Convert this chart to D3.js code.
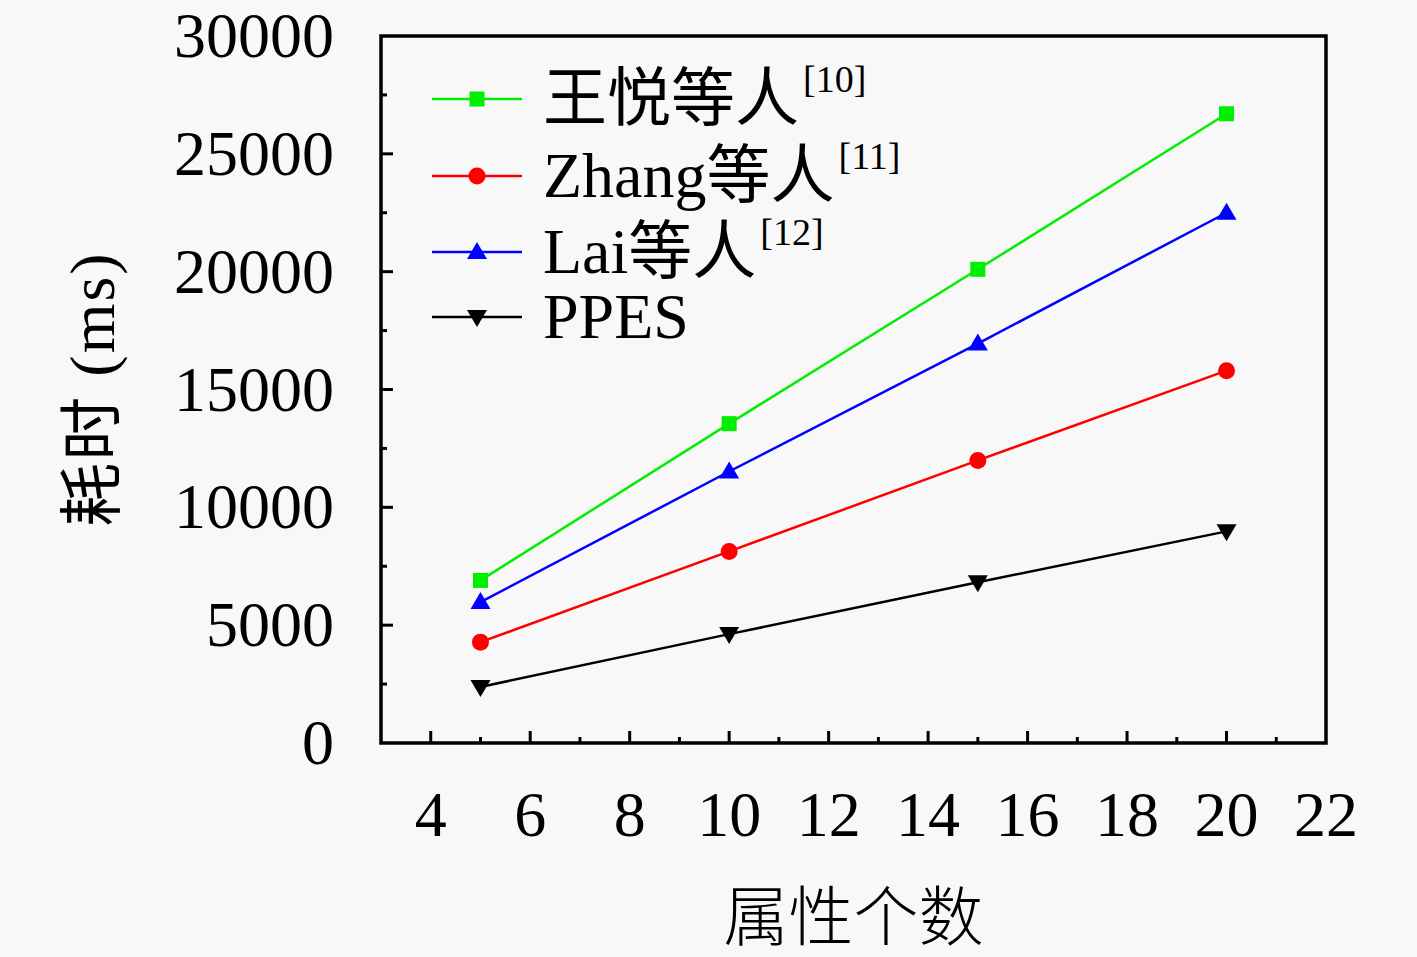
<!DOCTYPE html>
<html>
<head>
<meta charset="utf-8">
<script src="https://cdn.jsdelivr.net/npm/d3@7"></script>
<style>
  html, body { margin: 0; padding: 0; background: #f8f8f8; }
  svg { display: block; }
  text { font-family: "Liberation Serif", "Noto Sans CJK SC", serif; fill: #000; }
</style>
</head>
<body>
<svg id="chart" width="1417" height="957"></svg>
<script>
/* ── DATA ── */
const xValues   = [5, 10, 15, 20];
const wangVals  = [6900, 13550, 20100, 26700];
const zhangVals = [4280, 8130, 11990, 15800];
const laiVals   = [5980, 11520, 16950, 22500];
const ppesVals  = [2380, 4620, 6820, 8980];

const xTicks = [4, 6, 8, 10, 12, 14, 16, 18, 20, 22];
const yTicks = [0, 5000, 10000, 15000, 20000, 25000, 30000];

const series = [
  { name: '王悦等人', ref: '[10]', vals: wangVals,  color: '#00ee00', sym: 'square' },
  { name: 'Zhang等人', ref: '[11]', vals: zhangVals, color: '#ff0000', sym: 'circle' },
  { name: 'Lai等人',  ref: '[12]', vals: laiVals,   color: '#0000ff', sym: 'up' },
  { name: 'PPES',     ref: '',     vals: ppesVals,  color: '#000000', sym: 'down' },
];

/* ── LAYOUT ── */
const margin = { top: 36, right: 91, bottom: 214, left: 381 };
const W  = 1417, H = 957;
const iW = W - margin.left - margin.right;
const iH = H - margin.top  - margin.bottom;

const svg = d3.select('#chart');
const g   = svg.append('g').attr('transform', `translate(${margin.left},${margin.top})`);

const x = d3.scaleLinear().domain([3, 22]).range([0, iW]);
const y = d3.scaleLinear().domain([0, 30000]).range([iH, 0]);

/* ── MARKERS ── */
function marker(sel, sym, color) {
  if (sym === 'square') {
    sel.append('rect').attr('x', -7.5).attr('y', -7.5).attr('width', 15).attr('height', 15).attr('fill', color);
  } else if (sym === 'circle') {
    sel.append('circle').attr('r', 8.5).attr('fill', color);
  } else if (sym === 'up') {
    sel.append('path').attr('d', 'M0,-10L10,7L-10,7Z').attr('fill', color);
  } else {
    sel.append('path').attr('d', 'M0,10L10,-7L-10,-7Z').attr('fill', color);
  }
}

/* ── SERIES ── */
const line = d3.line().x(d => x(d[0])).y(d => y(d[1]));

series.forEach(s => {
  const pts = xValues.map((v, i) => [v, s.vals[i]]);
  g.append('path').datum(pts)
    .attr('d', line).attr('fill', 'none')
    .attr('stroke', s.color).attr('stroke-width', 2.5);
  pts.forEach(p => {
    const m = g.append('g').attr('transform', `translate(${x(p[0])},${y(p[1])})`);
    marker(m, s.sym, s.color);
  });
});

/* ── AXES ── */
// minor ticks
const yMinor = d3.range(2500, 30000, 5000);
const xMinor = d3.range(5, 22, 2);

g.selectAll('.ytk').data(yTicks.slice(1, -1)).enter().append('line')
  .attr('x1', 0).attr('x2', 12).attr('y1', d => y(d)).attr('y2', d => y(d))
  .attr('stroke', '#000').attr('stroke-width', 3);
g.selectAll('.ymn').data(yMinor).enter().append('line')
  .attr('x1', 0).attr('x2', 6).attr('y1', d => y(d)).attr('y2', d => y(d))
  .attr('stroke', '#000').attr('stroke-width', 3);
g.selectAll('.xtk').data(xTicks.slice(0, -1)).enter().append('line')
  .attr('x1', d => x(d)).attr('x2', d => x(d)).attr('y1', iH).attr('y2', iH - 12)
  .attr('stroke', '#000').attr('stroke-width', 3);
g.selectAll('.xmn').data(xMinor).enter().append('line')
  .attr('x1', d => x(d)).attr('x2', d => x(d)).attr('y1', iH).attr('y2', iH - 6)
  .attr('stroke', '#000').attr('stroke-width', 3);

// frame
g.append('rect').attr('width', iW).attr('height', iH)
  .attr('fill', 'none').attr('stroke', '#000').attr('stroke-width', 3.5);

// tick labels
g.selectAll('.ylbl').data(yTicks).enter().append('text')
  .attr('x', -47).attr('y', d => y(d)).attr('dy', '0.33em')
  .attr('text-anchor', 'end').attr('font-size', 64).text(d => d);
g.selectAll('.xlbl').data(xTicks).enter().append('text')
  .attr('x', d => x(d)).attr('y', iH + 93)
  .attr('text-anchor', 'middle').attr('font-size', 64).text(d => d);

// axis titles
svg.append('text')
  .attr('x', x(12.5) + margin.left).attr('y', 940)
  .attr('text-anchor', 'middle').attr('font-size', 65)
  .attr('font-family', '"Noto Sans CJK SC"').attr('font-weight', 300)
  .text('属性个数');

svg.append('text')
  .attr('transform', 'translate(114,389) rotate(-90)')
  .attr('text-anchor', 'middle').attr('font-size', 64)
  .attr('letter-spacing', 2)
  .text('耗时 (ms)');

/* ── LEGEND ── */
const legRows = [99, 176, 252, 317];
series.forEach((s, i) => {
  const lg = svg.append('g').attr('transform', `translate(432,${legRows[i]})`);
  lg.append('line').attr('x1', 0).attr('x2', 90)
    .attr('stroke', s.color).attr('stroke-width', 2.5);
  marker(lg.append('g').attr('transform', 'translate(45,0)'), s.sym, s.color);
  const t = lg.append('text').attr('x', 111).attr('y', 21).attr('font-size', 64);
  t.append('tspan').text(s.name);
  if (s.ref) t.append('tspan').attr('font-size', 38).attr('dy', -28).attr('dx', 4).text(s.ref);
});
</script>
</body>
</html>
